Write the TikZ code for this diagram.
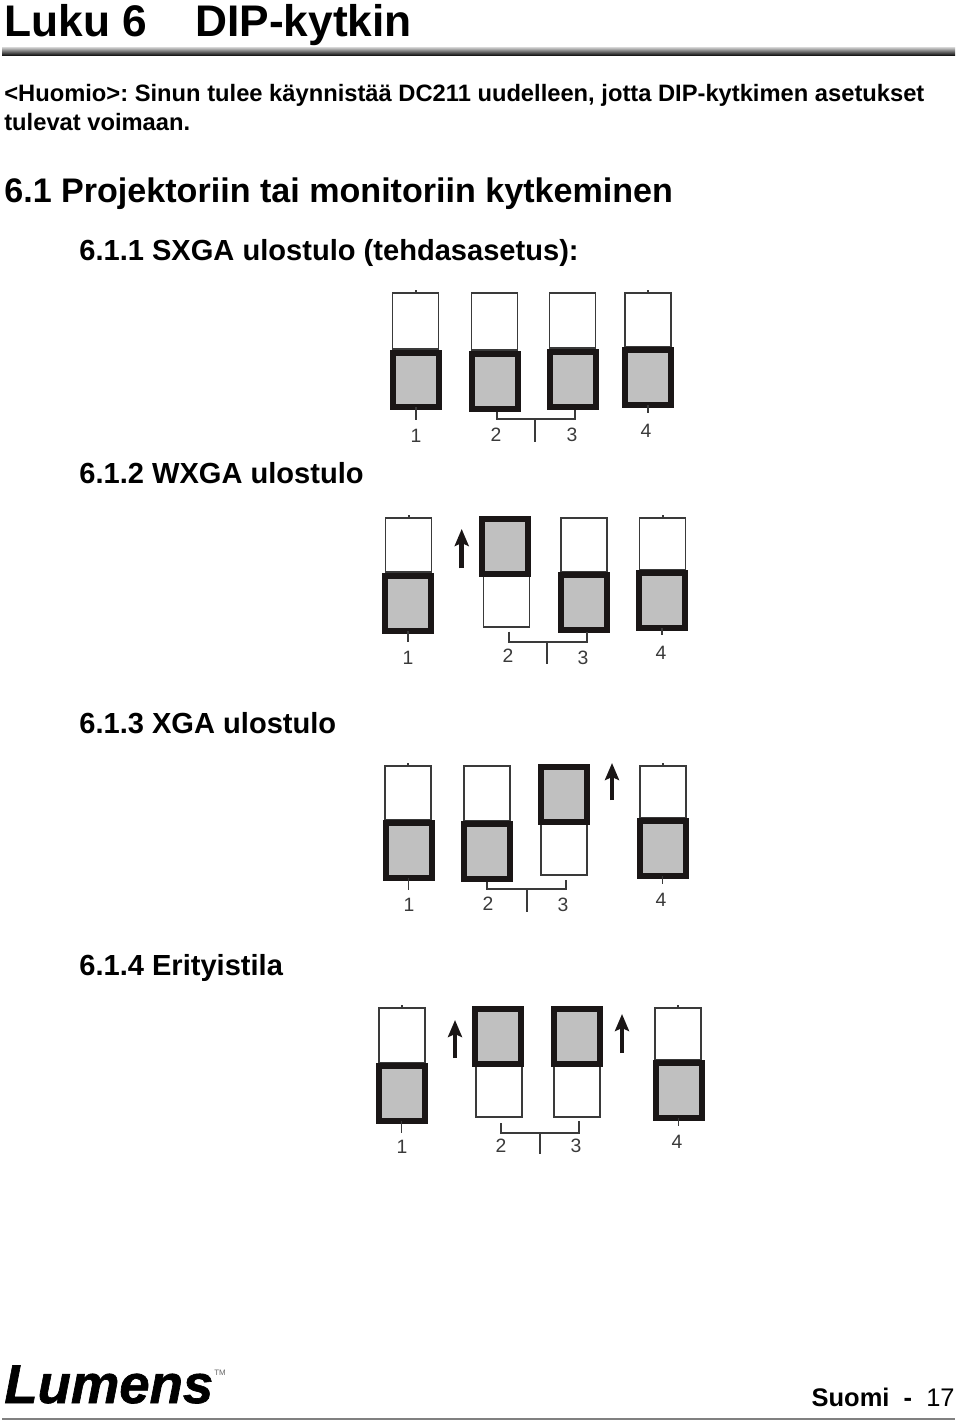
\documentclass[tikz,border=0pt]{standalone}
\usepackage{fontspec}
\setmainfont{Liberation Sans}
\newfontfamily\logofont[UprightFont={* Bold Italic},FakeBold=1.2]{Liberation Sans}
\usetikzlibrary{arrows.meta}
\definecolor{knobblack}{HTML}{1A1616}
\definecolor{knobgray}{HTML}{C0C0C0}
\definecolor{wireblack}{HTML}{3A3A3A}
\tikzset{
  thinbox/.style={draw=wireblack,line width=0.034cm,fill=white,inner sep=0pt,outer sep=0pt,minimum width=0.92cm},
  knobbox/.style={draw=knobblack,fill=knobgray,line width=0.12cm,inner sep=0pt,outer sep=0pt,minimum width=0.92cm,minimum height=1.10cm},
  wire/.style={draw=wireblack,line width=0.036cm},
  uparrow/.style={draw=knobblack,line width=0.09cm,-{Stealth[length=0.34cm,width=0.28cm,inset=0.06cm]}},
  swnum/.style={inner sep=0pt,text=wireblack,font=\fontsize{11}{13}\selectfont},
  headtext/.style={anchor=base west,inner sep=0pt,font=\bfseries\fontsize{#1}{#1}\selectfont},
}
\begin{document}
\frenchspacing
\begin{tikzpicture}[x=0.02cm,y=-0.02cm]

% page size:
\useasboundingbox (0,0) rectangle (960,1425);
\fill[white] (0,0) rectangle (960,1425);

% headings:
\node[headtext=25.2] (title) at (4,37) {Luku 6};
\node[headtext=25.2] (titleb) at (195,37) {DIP-kytkin};
\node[headtext=13.5] (note1) at (4,102) {<Huomio>: Sinun tulee käynnistää DC211 uudelleen, jotta DIP-kytkimen asetukset};
\node[headtext=13.5] (note2) at (4,131) {tulevat voimaan.};
\node[headtext=19.4] (sec) at (4,203) {6.1 Projektoriin tai monitoriin kytkeminen};
\node[headtext=16.55] (suba) at (79,261) {6.1.1 SXGA ulostulo (tehdasasetus):};
\node[headtext=16.55] (subb) at (79,483) {6.1.2 WXGA ulostulo};
\node[headtext=16.55] (subc) at (79,733) {6.1.3 XGA ulostulo};
\node[headtext=16.55] (subd) at (79,975) {6.1.4 Erityistila};

% rules:
\shade[top color=black!25,bottom color=black] (2,48) rectangle (955,56);
\fill[black!50] (2,1418) rectangle (955,1420);

% switches: name / thin x,y,height / knob x,y
\foreach \name/\tx/\ty/\th/\kx/\ky in {
  aa/392.3/293.3/56/390/349.5, ab/471.3/293.3/57/468.7/350.7, ac/549.3/293.3/55/546.7/348.7, ad/624.7/293.3/54/622/347,
  ba/385.3/518.3/54/382.3/572.7, bb/483.3/576/51/479.3/515.7, bc/560.7/518.3/54/557.7/572, bd/639.3/518.3/52/636.3/570.3,
  ca/385/766/54/382.5/820, cb/463.5/766/55/460.5/821, cc/541/824/51/537.5/763.5, cd/639.5/766/52/636.5/818,
  da/378.5/1008/55/375.5/1063, db/476/1066/51/472/1006, dc/554/1066/51/551/1006, dd/655/1008/52/652.5/1060}{
  \node[thinbox,minimum height=\th*0.02 cm] (\name t) at (\tx+23.3,\ty+\th/2) {};
  \node[knobbox] (\name k) at (\kx+26,\ky+30.5) {};
}

% little ticks on top of 1 and 4:
\foreach \name in {aa,ad,ba,bd,ca,cd,da,dd}{
  \draw[wire] (\name t.north) -- ++(0,-3);
}
% tails under 1 and 4:
\foreach \name/\len in {aa/13,ad/8,ba/11.5,bd/7,ca/12,cd/8,da/12,dd/8}{
  \draw[wire] (\name k.south) -- ++(0,\len);
}

% brackets joining 2 and 3:
\foreach \name/\xl/\yl/\xr/\yr/\yb/\xc/\yc in {
  a/497/412/575.3/409.7/419.3/535.3/442.3,
  b/508.7/631.7/586.7/632/641.7/546.7/664,
  c/487/882/566/880/889/527/912,
  d/501/1123/579/1121/1133/540/1154}{
  \coordinate (\name l) at (\xl,\yl);
  \coordinate (\name r) at (\xr,\yr);
  \coordinate (\name m) at (\xc,\yb);
  \coordinate (\name e) at (\xc,\yc);
  \draw[wire] (\name l) -- (\name l|-\name m) -- (\name r|-\name m) -- (\name r);
  \draw[wire] (\name m) -- (\name e);
}

% arrows:
\foreach \name/\xa/\ya/\yb in {b/461.7/568.3/529, c/612/800/763, d/455/1058/1020, e/622/1053/1014}{
  \coordinate (\name from) at (\xa,\ya);
  \coordinate (\name to) at (\xa,\yb);
  \draw[uparrow] (\name from) -- (\name to);
}

% numbers:
\foreach \name/\txt/\x/\y in {
  na/1/416/435.5, nb/2/496/434.5, nc/3/572/434.5, nd/4/646/430.5,
  oa/1/408/657.5, ob/2/508/655.5, oc/3/583/657.5, od/4/661/652.5,
  pa/1/409/904.5, pb/2/488/903.5, pc/3/563/904.5, pd/4/661/899.5,
  qa/1/402/1146.5, qb/2/501/1145.5, qc/3/576/1145.5, qd/4/677/1141.5}{
  \node[swnum] (\name) at (\x,\y) {\txt};
}

% footer:
\node[anchor=base west,inner sep=0pt,font=\logofont\fontsize{31}{31}\selectfont] (logo) at (4,1403) {Lumens};
\node[anchor=base west,inner sep=0pt,text=black!60,font=\fontsize{4.5}{5}\selectfont] (tm) at (214,1375) {TM};
\node[anchor=base east,inner sep=0pt,font=\fontsize{14.5}{16}\selectfont] (page) at (955,1406) {\textbf{Suomi\ \ -}\ \ 17};

\end{tikzpicture}
\end{document}
